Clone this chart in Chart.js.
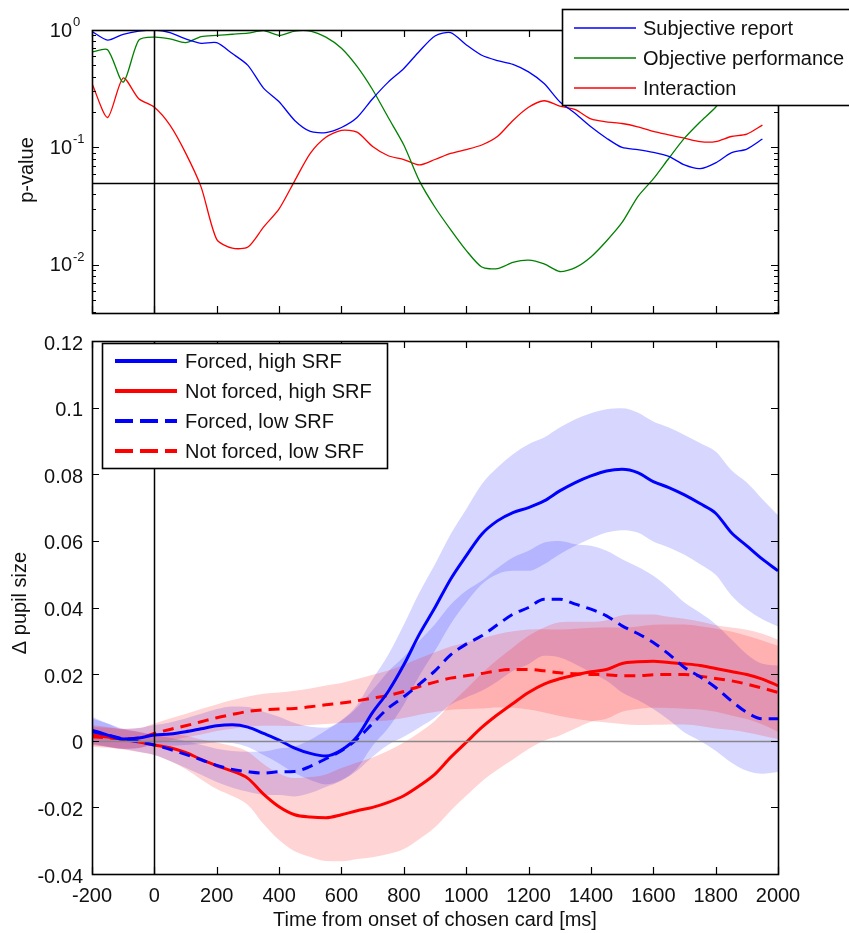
<!DOCTYPE html>
<html>
<head>
<meta charset="utf-8">
<title>Pupil size after card choice</title>
<script src="https://cdn.jsdelivr.net/npm/chart.js"></script>
<style>
	body { margin: 0; background: #fff; }
	#wrap { position: relative; width: 849px; height: 933px; overflow: hidden; }
	#wrap canvas { position: absolute; left: 0; }
	#pvalue_chart { top: 0; }
	#pupil_chart { top: 320px; }
</style>
</head>
<body>
<div id="wrap">
	<canvas id="pvalue_chart" width="849" height="320"></canvas>
	<canvas id="pupil_chart" width="849" height="613"></canvas>
</div>
<script>
// ---- top panel : p-values over time (ms) ----
var pTime = [-200, -150, -100, -50, 0, 50, 100, 150, 200, 250, 300, 350, 400, 450, 500, 550, 600, 650, 700, 750, 800, 850,
	900, 950, 1000, 1050, 1100, 1150, 1200, 1250, 1300, 1350, 1400, 1450, 1500, 1550, 1600, 1650, 1700, 1750, 1800, 1850, 1900, 1950];
var pSubjective = [0.97, 0.82, 0.92, 0.98, 1.0, 0.95, 0.84, 0.77, 0.78, 0.63, 0.50, 0.32, 0.245, 0.17, 0.137, 0.134, 0.148, 0.18, 0.26, 0.36, 0.47, 0.66,
	0.89, 0.95, 0.75, 0.61, 0.55, 0.51, 0.44, 0.35, 0.245, 0.195, 0.15, 0.12, 0.10, 0.096, 0.091, 0.084, 0.071, 0.066, 0.074, 0.09, 0.097, 0.118];
var pObjective = [0.65, 0.68, 0.36, 0.82, 0.87, 0.84, 0.78, 0.88, 0.90, 0.92, 0.94, 0.99, 0.90, 0.98, 0.98, 0.87, 0.70, 0.49, 0.31, 0.18, 0.105, 0.052,
	0.031, 0.020, 0.0133, 0.0096, 0.0093, 0.0105, 0.011, 0.0102, 0.0088, 0.0095, 0.0117, 0.016, 0.023, 0.038, 0.054, 0.081, 0.12, 0.165, 0.22, 0.33, 0.5, 0.72];
var pInteraction = [0.35, 0.18, 0.39, 0.26, 0.22, 0.155, 0.09, 0.046, 0.0165, 0.0139, 0.0142, 0.021, 0.030, 0.052, 0.089, 0.122, 0.14, 0.135, 0.102, 0.085, 0.079, 0.071,
	0.079, 0.089, 0.096, 0.105, 0.124, 0.17, 0.22, 0.25, 0.225, 0.21, 0.175, 0.165, 0.16, 0.15, 0.137, 0.128, 0.12, 0.112, 0.112, 0.124, 0.13, 0.155];
var pTickValues = [1, 0.1, 0.01];
var pTickExponents = ['0', '-1', '-2'];
var pThreshold = 0.05;

// ---- bottom panel : change of pupil size, mean and half width of shaded band ----
var pupilTime = [-200, -150, -100, -50, 0, 50, 100, 150, 200, 250, 300, 350, 400, 450, 500, 550, 600, 650, 700, 750, 800, 850, 900,
	950, 1000, 1050, 1100, 1150, 1200, 1250, 1300, 1350, 1400, 1450, 1500, 1550, 1600, 1650, 1700, 1750, 1800, 1850, 1900, 1950, 2000];
var forcedHigh = [0.0032, 0.0017, 0.0005, 0.0008, 0.0017, 0.0020, 0.0027, 0.0036, 0.0045, 0.0048, 0.0041, 0.0022, 0.0002, -0.0022, -0.0038, -0.0046, -0.0028, 0.0012, 0.0085, 0.0148, 0.0228, 0.0320, 0.0400,
	0.0485, 0.0555, 0.0620, 0.0660, 0.0685, 0.0700, 0.0720, 0.0750, 0.0775, 0.0795, 0.0810, 0.0815, 0.0805, 0.0778, 0.0760, 0.0738, 0.0712, 0.0683, 0.0625, 0.0585, 0.0545, 0.0510];
var forcedHighErr = [0.004, 0.0035, 0.003, 0.003, 0.003, 0.0035, 0.004, 0.0045, 0.005, 0.0055, 0.006, 0.0065, 0.007, 0.0075, 0.008, 0.0085, 0.009, 0.0095, 0.010, 0.011, 0.012, 0.0125, 0.013,
	0.0135, 0.014, 0.015, 0.016, 0.0175, 0.019, 0.019, 0.019, 0.019, 0.0188, 0.0185, 0.0183, 0.018, 0.018, 0.018, 0.018, 0.0182, 0.0185, 0.0188, 0.019, 0.018, 0.0167];
var notForcedHigh = [0.0017, 0.0011, 0.0004, -0.0004, -0.0013, -0.0021, -0.0035, -0.0056, -0.0075, -0.0091, -0.0113, -0.0160, -0.0198, -0.0222, -0.0229, -0.0231, -0.0222, -0.0210, -0.0200, -0.0185, -0.0165, -0.0135, -0.0100,
	-0.0050, -0.0005, 0.0040, 0.0078, 0.0112, 0.0145, 0.0170, 0.0186, 0.0197, 0.0207, 0.0214, 0.0232, 0.0237, 0.0239, 0.0235, 0.0231, 0.0226, 0.0217, 0.0208, 0.0199, 0.0185, 0.0165];
var notForcedHighErr = [0.003, 0.003, 0.003, 0.003, 0.003, 0.004, 0.005, 0.006, 0.007, 0.0075, 0.008, 0.009, 0.010, 0.011, 0.012, 0.013, 0.014, 0.0145, 0.015, 0.0155, 0.016, 0.016, 0.016,
	0.016, 0.016, 0.0162, 0.0165, 0.0168, 0.017, 0.017, 0.017, 0.016, 0.015, 0.0148, 0.0145, 0.0142, 0.014, 0.0137, 0.0135, 0.0132, 0.013, 0.0132, 0.0134, 0.0136, 0.0138];
var forcedLow = [0.0027, 0.0017, 0.0006, -0.0003, -0.0013, -0.0026, -0.0041, -0.0057, -0.0074, -0.0086, -0.0093, -0.0097, -0.0093, -0.0092, -0.0077, -0.0054, -0.0030, 0.0005, 0.0052, 0.0098, 0.0132, 0.0170, 0.0210,
	0.0258, 0.0290, 0.0315, 0.0348, 0.0380, 0.0400, 0.0425, 0.0425, 0.0410, 0.0395, 0.0375, 0.0345, 0.0322, 0.0295, 0.0260, 0.0220, 0.0192, 0.0160, 0.0120, 0.0085, 0.0066, 0.0066];
var forcedLowErr = [0.004, 0.0035, 0.003, 0.003, 0.003, 0.0035, 0.004, 0.0045, 0.005, 0.0055, 0.006, 0.0065, 0.007, 0.0075, 0.008, 0.0085, 0.009, 0.0095, 0.010, 0.011, 0.012, 0.013, 0.014,
	0.015, 0.016, 0.0165, 0.017, 0.017, 0.017, 0.017, 0.0175, 0.018, 0.019, 0.0195, 0.020, 0.020, 0.020, 0.0198, 0.0195, 0.0192, 0.019, 0.0185, 0.0175, 0.0165, 0.016];
var notForcedLow = [0.0012, 0.0009, 0.0006, 0.0008, 0.0022, 0.0034, 0.0045, 0.0057, 0.0069, 0.0079, 0.0088, 0.0093, 0.0095, 0.0097, 0.0102, 0.0108, 0.0113, 0.0120, 0.0128, 0.0136, 0.0148, 0.0163, 0.0176,
	0.0188, 0.0195, 0.0202, 0.0210, 0.0214, 0.0214, 0.0210, 0.0204, 0.0201, 0.0199, 0.0198, 0.0195, 0.0195, 0.0198, 0.0199, 0.0199, 0.0194, 0.0187, 0.0180, 0.0170, 0.0158, 0.0145];
var notForcedLowErr = [0.003, 0.003, 0.003, 0.003, 0.003, 0.0033, 0.0035, 0.0038, 0.004, 0.0043, 0.0045, 0.0048, 0.005, 0.0053, 0.0055, 0.0058, 0.006, 0.0065, 0.007, 0.0075, 0.008, 0.0085, 0.009,
	0.0095, 0.010, 0.0105, 0.011, 0.0115, 0.012, 0.0125, 0.013, 0.0135, 0.014, 0.0143, 0.0145, 0.0148, 0.015, 0.015, 0.015, 0.015, 0.015, 0.0148, 0.0145, 0.0143, 0.014];

var FONT = '"Liberation Sans", Arial, Helvetica, sans-serif';
var TEXT_COLOR = '#111';

function toPoints(time, values){
	return time.map(function(t, i){ return {x: t, y: values[i]}; });
}
function offsetPoints(time, values, err, sign){
	return time.map(function(t, i){ return {x: t, y: values[i] + sign * err[i]}; });
}

// matlab style box with ticks pointing inwards + reference lines + legend
var matlabAxes = {
	id: 'matlabAxes',
	afterDatasetsDraw: function(chart, args, opts){
		var ctx = chart.ctx, a = chart.chartArea;
		var xs = chart.scales.x, ys = chart.scales.y;
		ctx.save();
		ctx.beginPath();
		ctx.rect(a.left, a.top, a.right - a.left, a.bottom - a.top);
		ctx.clip();
		// horizontal reference line (p = 0.05 or zero line)
		if(opts.hLine !== undefined){
			var hy = Math.round(ys.getPixelForValue(opts.hLine)) + 0.5;
			ctx.strokeStyle = opts.hLineColor;
			ctx.lineWidth = 1.5;
			ctx.beginPath(); ctx.moveTo(a.left, hy); ctx.lineTo(a.right, hy); ctx.stroke();
		}
		// onset of the card
		var vx = Math.round(xs.getPixelForValue(0)) + 0.5;
		ctx.strokeStyle = '#000';
		ctx.lineWidth = 1.5;
		ctx.beginPath(); ctx.moveTo(vx, a.top); ctx.lineTo(vx, a.bottom); ctx.stroke();
		ctx.restore();

		ctx.save();
		ctx.strokeStyle = '#000';
		ctx.lineWidth = 1.2;
		ctx.beginPath();
		xs.ticks.forEach(function(t){
			var x = Math.round(xs.getPixelForValue(t.value)) + 0.5;
			ctx.moveTo(x, a.bottom); ctx.lineTo(x, a.bottom - 7);
			ctx.moveTo(x, a.top); ctx.lineTo(x, a.top + 7);
		});
		var yMajor = opts.yMajor || ys.ticks.map(function(t){ return t.value; });
		yMajor.forEach(function(v){
			var y = Math.round(ys.getPixelForValue(v)) + 0.5;
			ctx.moveTo(a.left, y); ctx.lineTo(a.left + 7, y);
			ctx.moveTo(a.right, y); ctx.lineTo(a.right - 7, y);
		});
		(opts.yMinor || []).forEach(function(v){
			var y = Math.round(ys.getPixelForValue(v)) + 0.5;
			ctx.moveTo(a.left, y); ctx.lineTo(a.left + 4, y);
			ctx.moveTo(a.right, y); ctx.lineTo(a.right - 4, y);
		});
		ctx.stroke();
		ctx.lineWidth = 1.6;
		ctx.strokeRect(Math.round(a.left) + 0.5, Math.round(a.top) + 0.5, Math.round(a.right - a.left), Math.round(a.bottom - a.top));
		ctx.restore();
	},
	afterDraw: function(chart, args, opts){
		var ctx = chart.ctx;
		ctx.save();
		ctx.fillStyle = TEXT_COLOR;
		ctx.font = '20px ' + FONT;
		// axis titles
		(opts.titles || []).forEach(function(tt){
			ctx.save();
			ctx.translate(tt.x, tt.y);
			if(tt.rotate) ctx.rotate(-Math.PI / 2);
			ctx.textAlign = 'center';
			ctx.textBaseline = 'middle';
			ctx.fillText(tt.text, 0, 0);
			ctx.restore();
		});
		// legend
		var lg = opts.legend;
		if(lg){
			ctx.fillStyle = '#fff';
			ctx.fillRect(lg.box[0], lg.box[1], lg.box[2], lg.box[3]);
			ctx.strokeStyle = '#000';
			ctx.lineWidth = 1.6;
			ctx.strokeRect(lg.box[0] + 0.5, lg.box[1] + 0.5, lg.box[2], lg.box[3]);
			lg.datasets.forEach(function(idx, i){
				var ds = chart.data.datasets[idx];
				var y = lg.rowY[i];
				ctx.strokeStyle = ds.borderColor;
				ctx.lineWidth = lg.lineWidth;
				ctx.setLineDash(ds.borderDash && ds.borderDash.length ? lg.dash : []);
				ctx.beginPath(); ctx.moveTo(lg.lineX[0], y); ctx.lineTo(lg.lineX[1], y); ctx.stroke();
				ctx.setLineDash([]);
				ctx.fillStyle = TEXT_COLOR;
				ctx.textAlign = 'left';
				ctx.textBaseline = 'middle';
				ctx.fillText(ds.label, lg.textX, y + 1);
			});
		}
		ctx.restore();
	}
};

LoadPValueChart();
function LoadPValueChart(){
	// minor log ticks 2..9 per decade
	var minor = [];
	[0.001, 0.01, 0.1].forEach(function(d){
		for (var k = 2; k <= 9; k++) {
			if(k * d >= 0.0039) minor.push(k * d);
		}
	});

	var ctx = document.getElementById('pvalue_chart').getContext('2d');
	var pvalueChart = new Chart(ctx, {
		type: 'line',
		data: {
			datasets: [{
				label: 'Subjective report',
				data: toPoints(pTime, pSubjective),
				borderColor: '#0000ff',
				borderWidth: 1.3
			}, {
				label: 'Objective performance',
				data: toPoints(pTime, pObjective),
				borderColor: '#008000',
				borderWidth: 1.3
			}, {
				label: 'Interaction',
				data: toPoints(pTime, pInteraction),
				borderColor: '#ff0000',
				borderWidth: 1.3
			}]
		},
		options: {
			responsive: false,
			animation: false,
			elements: { point: { radius: 0 }, line: { tension: 0.25 } },
			layout: { padding: { left: 0, right: 71, top: 30, bottom: 0 } },
			scales: {
				x: {
					type: 'linear', min: -200, max: 2000,
					ticks: { display: false, stepSize: 200 },
					grid: { display: false, drawTicks: false },
					border: { display: false },
					afterFit: function(s){ s.height = 7; }
				},
				y: {
					type: 'logarithmic', min: 0.0039, max: 1,
					ticks: { display: false },
					grid: { display: false, drawTicks: false },
					border: { display: false },
					afterFit: function(s){ s.width = 92; }
				}
			},
			plugins: {
				legend: { display: false },
				tooltip: { enabled: false },
				matlabAxes: {
					hLine: pThreshold,
					hLineColor: '#000',
					yMajor: pTickValues,
					yMinor: minor,
					titles: [{ text: 'p-value', x: 27, y: 170, rotate: true }],
					legend: {
						box: [562, 9, 300, 96],
						datasets: [0, 1, 2],
						rowY: [28, 58, 88],
						lineX: [574, 636],
						textX: 643,
						lineWidth: 1.3,
						dash: []
					}
				}
			}
		},
		plugins: [matlabAxes, {
			id: 'logLabels',
			afterDraw: function(chart){
				// 10^n labels with raised exponent
				var c = chart.ctx, ys = chart.scales.y;
				c.save();
				c.fillStyle = TEXT_COLOR;
				c.textBaseline = 'middle';
				pTickValues.forEach(function(v, i){
					var y = ys.getPixelForValue(v) + 1;
					c.font = '20px ' + FONT;
					c.textAlign = 'right';
					c.fillText('10', 72, y);
					c.font = '13px ' + FONT;
					c.textAlign = 'left';
					c.fillText(pTickExponents[i], 73, y - 9);
				});
				c.restore();
			}
		}]
	});
}

LoadPupilChart();
function LoadPupilChart(){
	var groups = [
		{ label: 'Not forced, high SRF', mean: notForcedHigh, err: notForcedHighErr, color: '#ff0000', band: 'rgba(255,0,0,0.17)', dash: [] },
		{ label: 'Not forced, low SRF', mean: notForcedLow, err: notForcedLowErr, color: '#ff0000', band: 'rgba(255,0,0,0.17)', dash: [11, 7] },
		{ label: 'Forced, high SRF', mean: forcedHigh, err: forcedHighErr, color: '#0000ff', band: 'rgba(0,0,255,0.16)', dash: [] },
		{ label: 'Forced, low SRF', mean: forcedLow, err: forcedLowErr, color: '#0000ff', band: 'rgba(0,0,255,0.16)', dash: [11, 7] }
	];
	var datasets = [];
	// shaded bands first
	groups.forEach(function(g){
		datasets.push({
			label: g.label + ' lower',
			data: offsetPoints(pupilTime, g.mean, g.err, -1),
			borderWidth: 0, borderColor: 'transparent', fill: false, order: 2
		});
		datasets.push({
			label: g.label + ' upper',
			data: offsetPoints(pupilTime, g.mean, g.err, 1),
			borderWidth: 0, borderColor: 'transparent', backgroundColor: g.band, fill: '-1', order: 2
		});
	});
	// mean lines
	groups.forEach(function(g, i){
		datasets.push({
			label: g.label,
			data: toPoints(pupilTime, g.mean),
			borderColor: g.color,
			borderWidth: 3,
			borderDash: g.dash,
			fill: false,
			order: 1 - i * 0.1
		});
	});

	var ctx = document.getElementById('pupil_chart').getContext('2d');
	var pupilChart = new Chart(ctx, {
		type: 'line',
		data: { datasets: datasets },
		options: {
			responsive: false,
			animation: false,
			elements: { point: { radius: 0 }, line: { cubicInterpolationMode: 'monotone' } },
			layout: { padding: { left: 0, right: 71, top: 13, bottom: 0 } },
			scales: {
				x: {
					type: 'linear', min: -200, max: 2000,
					ticks: {
						stepSize: 200, padding: 10, color: TEXT_COLOR, font: { family: FONT, size: 20 }, maxRotation: 0,
						callback: function(v){ return String(v); }
					},
					grid: { display: false, drawTicks: false },
					border: { display: false },
					afterFit: function(s){ s.height = 59; }
				},
				y: {
					type: 'linear', min: -0.04, max: 0.12,
					ticks: {
						stepSize: 0.02, padding: 9, labelOffset: 3, color: TEXT_COLOR, font: { family: FONT, size: 20 },
						callback: function(v){ return String(Math.round(v * 100) / 100); }
					},
					grid: { display: false, drawTicks: false },
					border: { display: false },
					afterFit: function(s){ s.width = 92; }
				}
			},
			plugins: {
				legend: { display: false },
				tooltip: { enabled: false },
				matlabAxes: {
					hLine: 0,
					hLineColor: '#888',
					titles: [
						{ text: '\u0394 pupil size', x: 20, y: 283, rotate: true },
						{ text: 'Time from onset of chosen card [ms]', x: 435, y: 600 }
					],
					legend: {
						box: [102, 23, 285, 125],
						datasets: [10, 8, 11, 9],
						rowY: [41, 71, 101, 131],
						lineX: [115, 177],
						textX: 185,
						lineWidth: 4,
						dash: [18, 7]
					}
				}
			}
		},
		plugins: [matlabAxes]
	});
}
</script>
</body>
</html>
